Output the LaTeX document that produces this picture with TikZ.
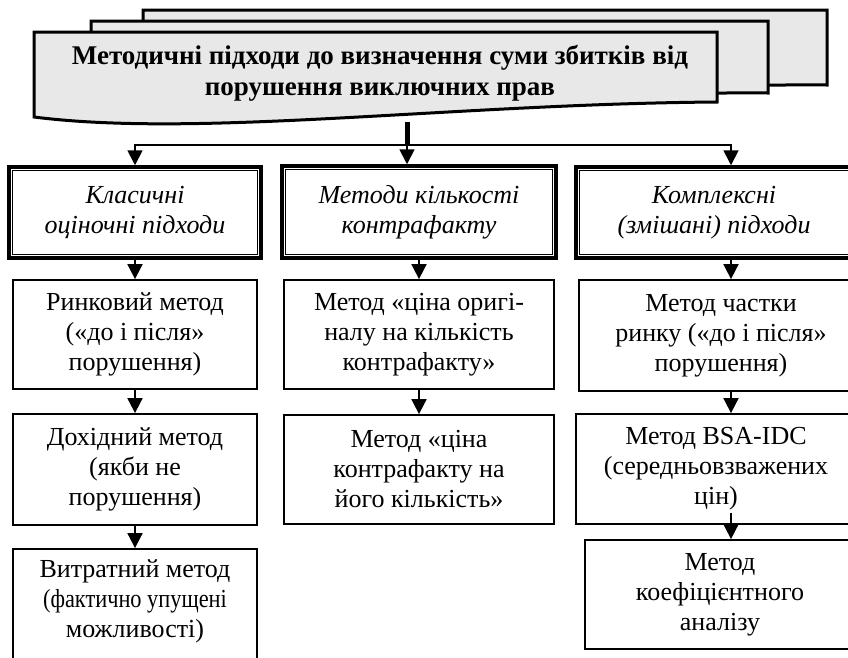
\documentclass[tikz,border=0pt]{standalone}
\usepackage{fontspec}
\setmainfont{Liberation Serif}
\usetikzlibrary{arrows.meta,calc}
\begin{document}
\begin{tikzpicture}[x=1pt,y=-1pt,
  docshape/.style={draw=black, line width=3pt, fill=gray!18, line join=miter},
  hdr/.style={draw, line width=3.5pt, rectangle, inner sep=0pt, font=\fontsize{26}{30}\selectfont\itshape, align=center},
  boxn/.style={draw, line width=1.8pt, rectangle, inner sep=0pt, font=\fontsize{26}{30}\selectfont, align=center},
  innerline/.style={draw, line width=1.3pt},
  arr/.style={line width=1.8pt, -{Triangle[length=15pt,width=15pt]}},
  trunk/.style={line width=5pt},
  hline/.style={line width=2.5pt, line cap=rect}
]
\useasboundingbox (0,0) rectangle (848,657);
\clip (0,0) rectangle (848,657);

% stacked documents
\path[docshape] (143,10) -- (827,10) -- (827,85) .. controls (580,83) and (300,118) .. (143,100) -- cycle;
\path[docshape] (91,21) -- (768,21) -- (768,93) .. controls (520,91) and (250,126) .. (91,108) -- cycle;
\path[docshape] (34,32) -- (717,32) -- (717,102) .. controls (450,104) and (200,138) .. (34,117) -- cycle;
\node[font=\fontsize{27}{31}\selectfont\bfseries, align=center] (title) at (380,73)
  {Методичні підходи до визначення суми збитків від\\порушення виключних прав};

\coordinate (tb) at (407,122);
\coordinate (split) at (407,145);
\coordinate (sl) at (135,145);
\coordinate (sr) at (731,145);
\coordinate (a3) at (731,0);

% header boxes
\node[hdr, minimum width=252pt, minimum height=91pt] (h1) at (135,212.5) {Класичні\\оціночні підходи};
\node[hdr, minimum width=274pt, minimum height=92pt] (h2) at (419,212) {Методи кількості\\контрафакту};
\node[hdr, minimum width=276pt, minimum height=91pt] (h3) at (714,212.5) {Комплексні\\(змішані) підходи};
\foreach \n in {h1,h2,h3}{
  \draw[innerline] ([shift={(5,5)}]\n.north west) rectangle ([shift={(-5,-5)}]\n.south east);
}

% column 1
\node[boxn, minimum width=244pt, minimum height=109pt] (r1) at (135,334.5) {Ринковий метод\\(«до і після»\\порушення)};
\node[boxn, minimum width=244pt, minimum height=111pt] (r2) at (135,469.5) {Дохідний метод\\(якби не\\порушення)};
\node[boxn, minimum width=244pt, minimum height=151pt] (r3) at (135,624.5) {};
\node[anchor=north, inner sep=0pt, font=\fontsize{26}{30}\selectfont, align=center] (r3t) at (135,559)
  {Витратний метод\\\scalebox{0.86}[1]{(фактично упущені}\\можливості)};

% column 2
\node[boxn, minimum width=270pt, minimum height=109pt] (m1) at (419,334.5) {Метод «ціна оригі-\\налу на кількість\\контрафакту»};
\node[boxn, minimum width=270pt, minimum height=109pt] (m2) at (419,469.5) {Метод «ціна\\контрафакту на\\його кількість»};

% column 3
\node[boxn, minimum width=284pt, minimum height=111pt] (c1) at (721,335.5) {Метод частки\\ринку («до і після»\\порушення)};
\node[boxn, minimum width=280pt, minimum height=110pt] (c2) at (716,469) {Метод BSA-IDC\\(середньовзважених\\цін)};
\node[boxn, minimum width=270pt, minimum height=109pt] (c3) at (720,594.5) {Метод\\коефіцієнтного\\аналізу};

% connectors
\draw[trunk] (tb) -- (split);
\draw[hline] (sl) -- (sr);
\draw[arr] (sl) -- (h1.north);
\draw[arr] (split) -- (h2.north -| split);
\draw[arr] (sr) -- (h3.north -| sr);

\draw[arr] ([yshift=3pt]h1.south) -- (r1.north);
\draw[arr] (r1.south) -- (r2.north);
\draw[arr] (r2.south) -- (r3.north);

\draw[arr] ([yshift=3pt]h2.south) -- (m1.north);
\draw[arr] (m1.south) -- (m2.north);

\draw[arr] ([yshift=3pt]h3.south -| a3) -- (c1.north -| a3);
\draw[arr] (c1.south -| a3) -- (c2.north -| a3);
\draw[arr] ([yshift=12pt]c2.south -| a3) -- (c3.north -| a3);
\end{tikzpicture}
\end{document}
